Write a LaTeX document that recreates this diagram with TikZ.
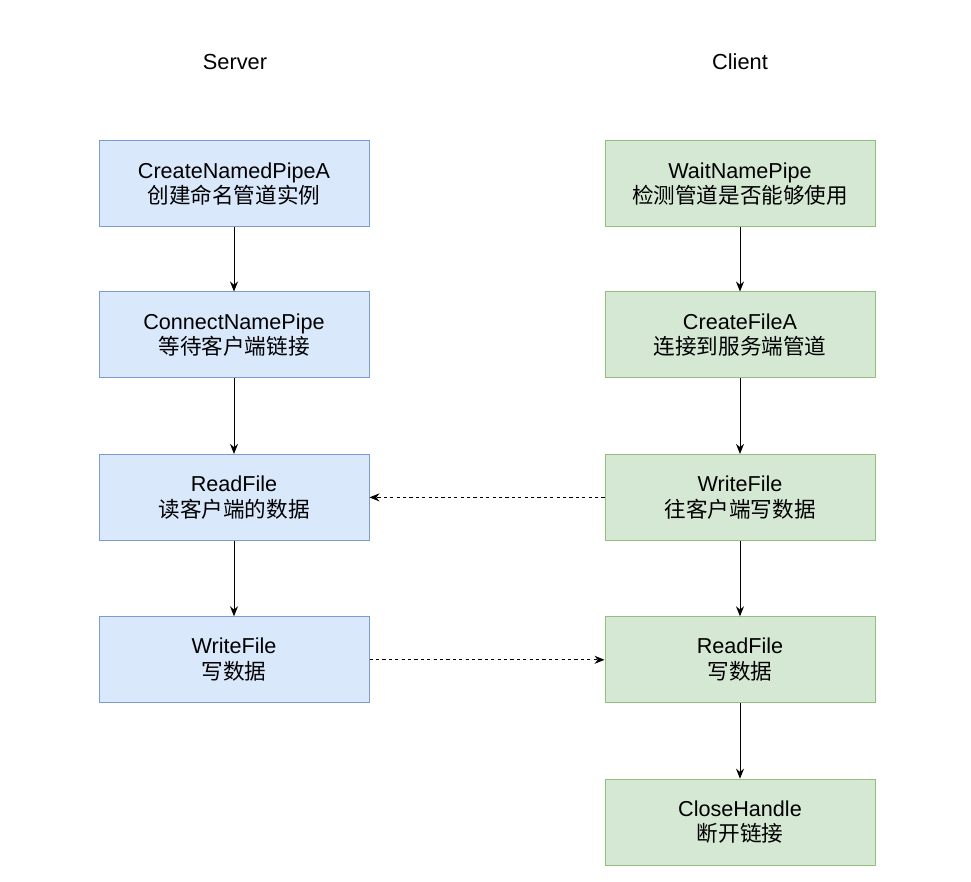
\documentclass[tikz,border=0pt]{standalone}
\usepackage{fontspec}
\setmainfont{Liberation Sans}
\newfontfamily\cjk{Noto Sans CJK SC}
\usetikzlibrary{arrows.meta, positioning}

\begin{document}
\begin{tikzpicture}[
  x=0.5pt, y=-0.5pt,
  node distance=37.7pt,
  srv/.style={draw=blue!45!gray!80, fill=blue!14!white, line width=0.5pt,
              minimum width=135pt, minimum height=43pt,
              align=center, font=\fontsize{10.8}{12.8}\selectfont},
  cli/.style={srv, draw=green!45!gray!90, fill=green!12!gray!8!white},
  title/.style={font=\fontsize{10.9}{12}\selectfont},
  arr/.style={-{Stealth[length=5pt, width=4pt]}, line width=0.5pt},
  darr/.style={arr, dash pattern=on 1.6pt off 1.6pt}
]
  \useasboundingbox (0,0) rectangle (971,882);
  \definecolor{srvfill}{HTML}{DAE8FC}
  \definecolor{srvline}{HTML}{7C9CCB}
  \definecolor{clifill}{HTML}{D5E8D4}
  \definecolor{cliline}{HTML}{93BF7A}
  \tikzset{srv/.append style={draw=srvline, fill=srvfill},
           cli/.append style={draw=cliline, fill=clifill}}

  \node[title] (tsrv) at (235,62) {Server};
  \node[title] (tcli) at (740,62) {Client};

  % server side
  \node[srv] (s1) at (234,184)
    {CreateNamedPipeA\\{\cjk 创建命名管道实例}};
  \node[srv, below=32pt of s1] (s2)
    {ConnectNamePipe\\{\cjk 等待客户端链接}};
  \node[srv, below=of s2] (s3)
    {ReadFile\\{\cjk 读客户端的数据}};
  \node[srv, below=of s3] (s4)
    {WriteFile\\{\cjk 写数据}};

  % client side
  \node[cli] (c1) at (740,184)
    {WaitNamePipe\\{\cjk 检测管道是否能够使用}};
  \node[cli, below=32pt of c1] (c2)
    {CreateFileA\\{\cjk 连接到服务端管道}};
  \node[cli, below=of c2] (c3)
    {WriteFile\\{\cjk 往客户端写数据}};
  \node[cli, below=of c3] (c4)
    {ReadFile\\{\cjk 写数据}};
  \node[cli, below=of c4] (c5)
    {CloseHandle\\{\cjk 断开链接}};

  \draw[arr] (s1) -- (s2);
  \draw[arr] (s2) -- (s3);
  \draw[arr] (s3) -- (s4);

  \draw[arr] (c1) -- (c2);
  \draw[arr] (c2) -- (c3);
  \draw[arr] (c3) -- (c4);
  \draw[arr] (c4) -- (c5);

  \draw[darr] (c3.west) -- (s3.east);
  \draw[darr] (s4.east) -- (c4.west);
\end{tikzpicture}
\end{document}
